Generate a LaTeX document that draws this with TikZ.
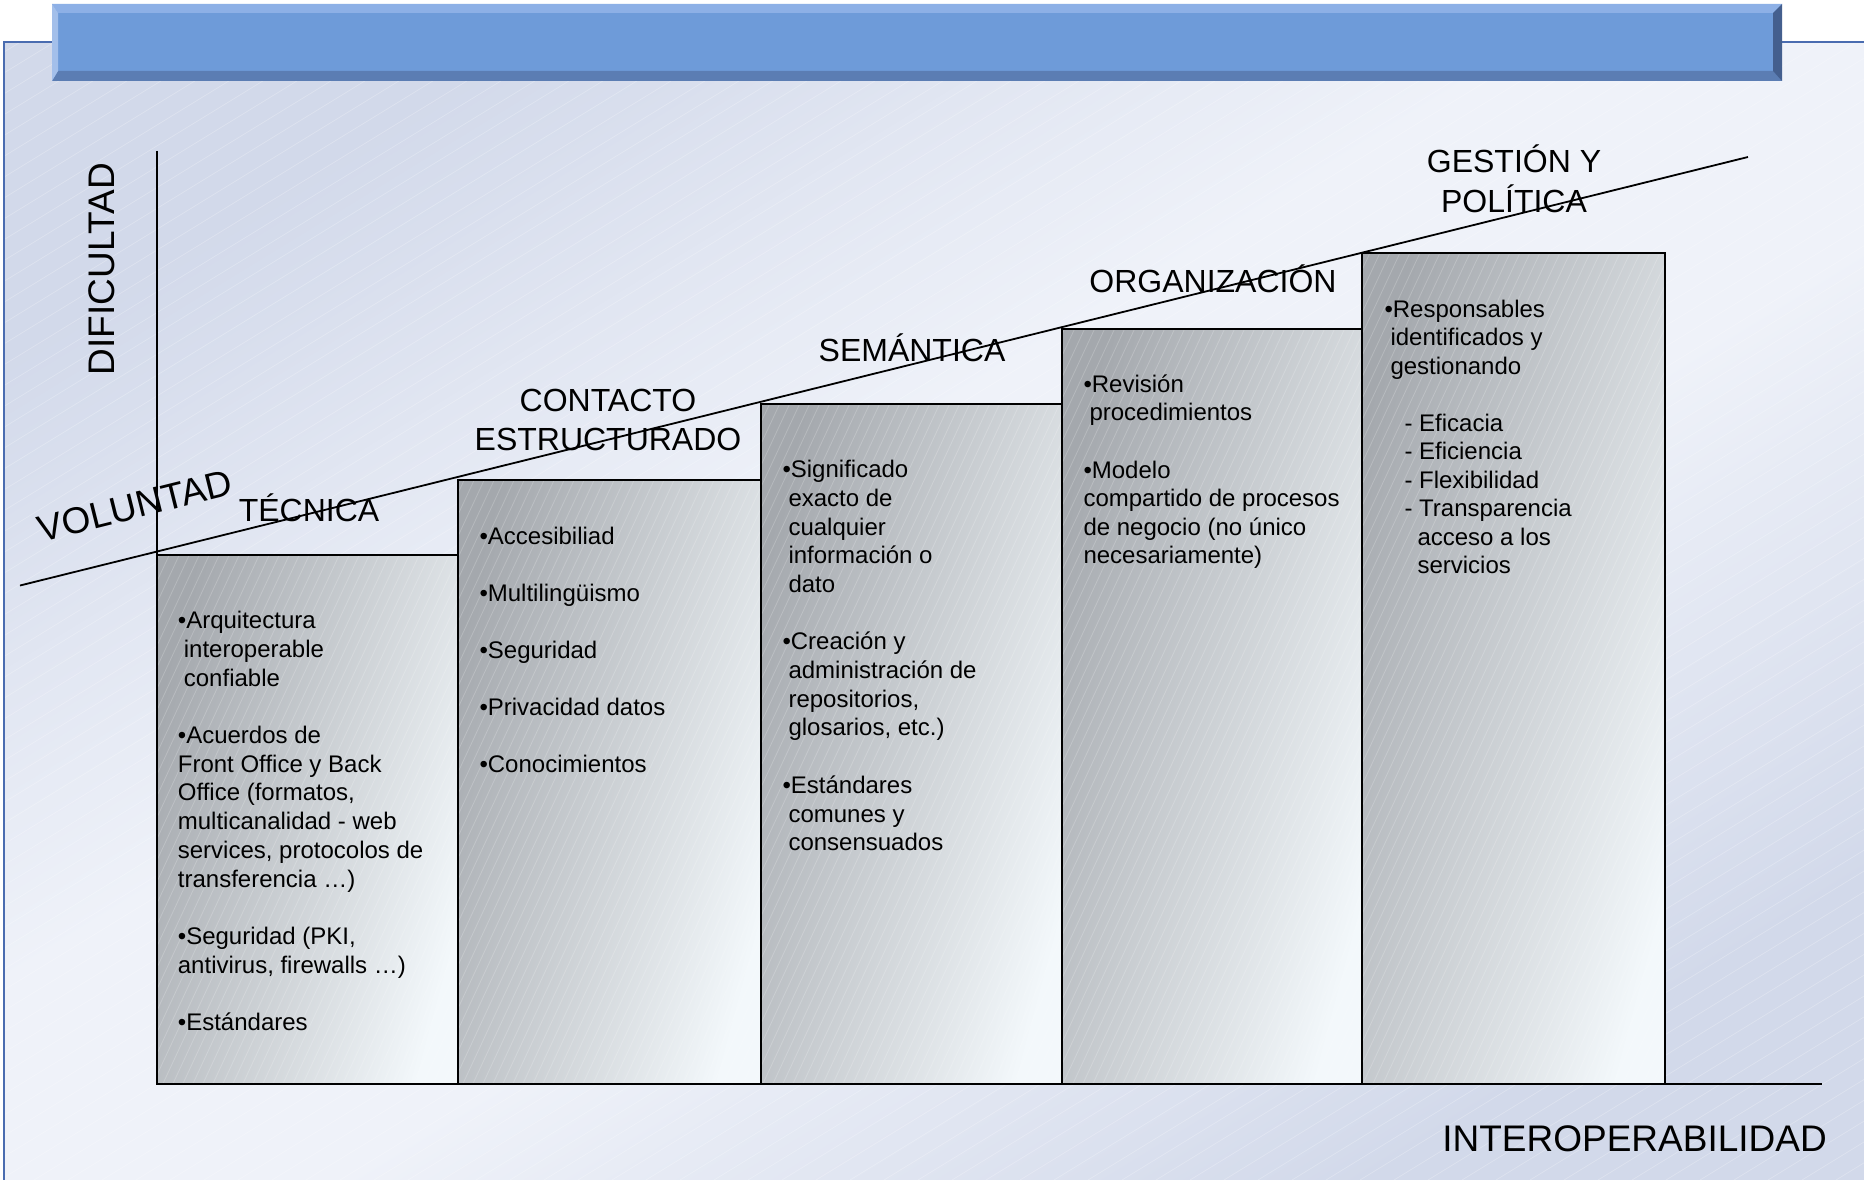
\documentclass[tikz,border=0pt]{standalone}
\usepackage{fontspec}
\setmainfont{Liberation Sans}
\definecolor{bgdark}{HTML}{D2D9EA}
\definecolor{bglight}{HTML}{EFF2F9}
\definecolor{framecol}{HTML}{4A6CB0}
\definecolor{barmain}{HTML}{6E9BD9}
\definecolor{bartop}{HTML}{8DB0E6}
\definecolor{barbot}{HTML}{5B7DB3}
\definecolor{barleft}{HTML}{A3BFEA}
\definecolor{barright}{HTML}{445F8E}
\definecolor{boxdark}{HTML}{A4A8AD}
\definecolor{boxlight}{HTML}{F3F8FB}
\pgfdeclarehorizontalshading{bgshade}{100bp}{color(0bp)=(bgdark); color(25bp)=(bgdark); color(44bp)=(bglight); color(56bp)=(bglight); color(75bp)=(bgdark); color(100bp)=(bgdark)}
\newcommand\ind{\hspace*{6pt}}
\begin{document}
\begin{tikzpicture}[x=1pt,y=-1pt,
  body/.style={anchor=base west, inner sep=0pt, font=\fontsize{24}{#1}\selectfont},
  stagelbl/.style={anchor=base, inner sep=0pt, font=\fontsize{32}{38.5}\selectfont},
  axislbl/.style={inner sep=0pt, font=\fontsize{37}{44}\selectfont},
  boxshape/.style={left color=boxdark, right color=boxlight, shading angle=75},
  boxline/.style={draw=black, line width=2pt},
  axisline/.style={draw=black, line width=2pt},
  hatchbg/.style={white, opacity=0.25, line width=0.7pt},
  hatchbox/.style={white, opacity=0.2, line width=0.8pt}]
\useasboundingbox (0,0) rectangle (1864,1180);
\fill[white] (0,0) rectangle (1864,1180);
% background panel
\shade[shading=bgshade, shading angle=-58.5] (4,42) rectangle (1868,1184);
\begin{scope}
  \clip (4,42) rectangle (1864,1180);
  \foreach \i in {-1870,-1836,...,1870} \draw[hatchbg] (\i,1180) -- ++(2000,-1226);
\end{scope}
\draw[framecol, line width=1.5pt] (1868,42) -- (4,42) -- (4,1184);
% header bar
\fill[barmain] (52,4) rectangle (1782,81);
\fill[bartop] (52,4) -- (1782,4) -- (1773,13) -- (58,13) -- cycle;
\fill[barbot] (52,81) -- (1782,81) -- (1773,71) -- (58,71) -- cycle;
\fill[barleft] (52,4) -- (58,13) -- (58,71) -- (52,81) -- cycle;
\fill[barright] (1782,4) -- (1773,13) -- (1773,71) -- (1782,81) -- cycle;
% boxes
\shade[boxshape] (157,555) rectangle (458,1084);
\shade[boxshape] (458,480) rectangle (761,1084);
\shade[boxshape] (761,404) rectangle (1062,1084);
\shade[boxshape] (1062,329) rectangle (1362,1084);
\shade[boxshape] (1362,253) rectangle (1665,1084);
\begin{scope}
  \clip (157,555) rectangle (458,1084) (458,480) rectangle (761,1084)
        (761,404) rectangle (1062,1084) (1062,329) rectangle (1362,1084)
        (1362,253) rectangle (1665,1084);
  \foreach \i in {-300,-290,...,1670} \draw[hatchbox] (\i,1090) -- ++(396,-850);
\end{scope}
\draw[boxline] (157,555) rectangle (458,1084);
\draw[boxline] (458,480) rectangle (761,1084);
\draw[boxline] (761,404) rectangle (1062,1084);
\draw[boxline] (1062,329) rectangle (1362,1084);
\draw[boxline] (1362,253) rectangle (1665,1084);
% axes
\coordinate (origin) at (157,1084);
\coordinate (ytop) at (157,151);
\coordinate (xend) at (1822,1084);
\draw[axisline] (ytop) -- (origin) -- (xend);
% diagonal
\coordinate (lineA) at (20,585.5);
\coordinate (lineB) at (1748,157);
\draw[black, line width=1.8pt] (lineA) -- (lineB);
% axis labels
\node[axislbl, anchor=base, rotate=90] (dif) at (114,269) {DIFICULTAD};
\node[axislbl, anchor=base, rotate=14] (vol) at (138,518) {VOLUNTAD};
\node[axislbl, anchor=base east] (inter) at (1827,1151) {INTEROPERABILIDAD};
% stage labels
\node[stagelbl] (tec) at (309,521.7) {TÉCNICA};
\node[stagelbl] (con) at (608,411.7) {\begin{tabular}[t]{@{}c@{}}CONTACTO\\ESTRUCTURADO\end{tabular}};
\node[stagelbl] (sem) at (912,361) {SEMÁNTICA};
\node[stagelbl] (org) at (1213,292.3) {ORGANIZACIÓN};
\node[stagelbl] (ges) at (1514,173) {\begin{tabular}[t]{@{}c@{}}GESTIÓN Y\\POLÍTICA\end{tabular}};
% box texts
\node[body=28.7] (t1) at (177.7,628.7) {\begin{tabular}[t]{@{}l@{}}
•Arquitectura\\
\ind interoperable\\
\ind confiable\\
\\
•Acuerdos de\\
Front Office y Back\\
Office (formatos,\\
multicanalidad - web\\
services, protocolos de\\
transferencia …)\\
\\
•Seguridad (PKI,\\
antivirus, firewalls …)\\
\\
•Estándares
\end{tabular}};
\node[body=28.5] (t2) at (479.3,544) {\begin{tabular}[t]{@{}l@{}}
•Accesibiliad\\
\\
•Multilingüismo\\
\\
•Seguridad\\
\\
•Privacidad datos\\
\\
•Conocimientos
\end{tabular}};
\node[body=28.7] (t3) at (782.3,477.6) {\begin{tabular}[t]{@{}l@{}}
•Significado\\
\ind exacto de\\
\ind cualquier\\
\ind información o\\
\ind dato\\
\\
•Creación y\\
\ind administración de\\
\ind repositorios,\\
\ind glosarios, etc.)\\
\\
•Estándares\\
\ind comunes y\\
\ind consensuados
\end{tabular}};
\node[body=28.6] (t4) at (1083.3,392.2) {\begin{tabular}[t]{@{}l@{}}
•Revisión\\
\ind procedimientos\\
\\
•Modelo\\
compartido de procesos\\
de negocio (no único\\
necesariamente)
\end{tabular}};
\node[body=28.5] (t5) at (1384.3,317) {\begin{tabular}[t]{@{}l@{}}
•Responsables\\
\ind identificados y\\
\ind gestionando\\
\\
\hspace*{20pt}- Eficacia\\
\hspace*{20pt}- Eficiencia\\
\hspace*{20pt}- Flexibilidad\\
\hspace*{20pt}- Transparencia\\
\hspace*{33pt}acceso a los\\
\hspace*{33pt}servicios
\end{tabular}};
\end{tikzpicture}
\end{document}
